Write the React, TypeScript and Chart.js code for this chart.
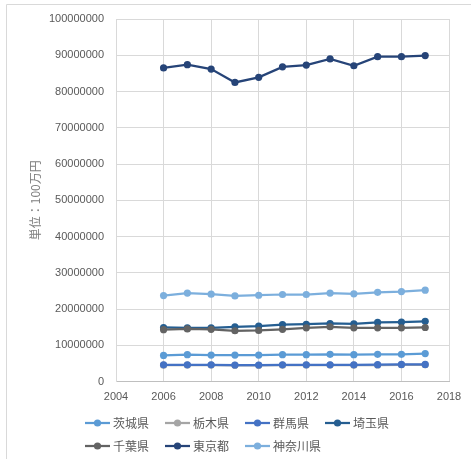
import React, { useEffect, useRef } from 'react';
import { Chart, registerables } from 'chart.js';

Chart.register(...registerables);

const years = [2006, 2007, 2008, 2009, 2010, 2011, 2012, 2013, 2014, 2015, 2016, 2017];
const seriesNames = ['茨城県', '栃木県', '群馬県', '埼玉県', '千葉県', '東京都', '神奈川県'];
const ibaraki = [7200000, 7400000, 7300000, 7300000, 7300000, 7400000, 7400000, 7500000, 7400000, 7500000, 7500000, 7700000];
const tochigi = [4500000, 4550000, 4550000, 4450000, 4450000, 4500000, 4550000, 4550000, 4500000, 4550000, 4600000, 4600000];
const gunma = [4600000, 4600000, 4600000, 4550000, 4550000, 4600000, 4600000, 4600000, 4600000, 4650000, 4700000, 4700000];
const saitama = [14900000, 14800000, 14800000, 15100000, 15300000, 15700000, 15800000, 16000000, 15900000, 16300000, 16400000, 16600000];
const chiba = [14300000, 14500000, 14400000, 14000000, 14100000, 14400000, 14800000, 15100000, 14800000, 14800000, 14800000, 14900000];
const tokyo = [86500000, 87400000, 86200000, 82500000, 83900000, 86800000, 87300000, 89000000, 87100000, 89600000, 89600000, 89900000];
const kanagawa = [23700000, 24400000, 24100000, 23600000, 23800000, 24000000, 24000000, 24400000, 24200000, 24600000, 24800000, 25200000];
const seriesValues = [ibaraki, tochigi, gunma, saitama, chiba, tokyo, kanagawa];
const colors = ['#5B9BD5', '#A5A5A5', '#4472C4', '#255E91', '#636363', '#264478', '#7CAFDD'];
const yAxisTitle = '単位：100万円';
const xMin = 2004;
const xMax = 2018;
const xStep = 2;
const yMin = 0;
const yMax = 100000000;
const yStep = 10000000;

const TEXT = '#595959';
const GRID = '#D9D9D9';

function makeLegendImage(color: string): HTMLCanvasElement {
  const c = document.createElement('canvas');
  c.width = 33;
  c.height = 10;
  const g = c.getContext('2d')!;
  g.strokeStyle = color;
  g.lineWidth = 2.25;
  g.beginPath();
  g.moveTo(8, 5);
  g.lineTo(33, 5);
  g.stroke();
  g.fillStyle = color;
  g.beginPath();
  g.arc(20.5, 5, 3.6, 0, Math.PI * 2);
  g.fill();
  return c;
}

export default function App() {
  const ref = useRef<HTMLCanvasElement | null>(null);

  useEffect(() => {
    if (!ref.current) return;
    const legendImgs = colors.map(makeLegendImage);

    const framePlugin = {
      id: 'frame',
      beforeDraw(chart: any) {
        const ctx = chart.ctx;
        ctx.save();
        ctx.strokeStyle = GRID;
        ctx.lineWidth = 1;
        ctx.beginPath();
        ctx.moveTo(6.5, 459);
        ctx.lineTo(6.5, 4.5);
        ctx.lineTo(471, 4.5);
        ctx.stroke();
        ctx.restore();
      },
      afterLayout(chart: any) {
        const lg = chart.legend;
        if (!lg) return;
        const w = lg.width;
        const h = lg.height;
        lg.left = 69;
        lg.right = 69 + w;
        lg.top = 406;
        lg.bottom = 406 + h;
      },
    };

    const chart = new Chart(ref.current, {
      type: 'line',
      data: {
        datasets: seriesNames.map((name, i) => ({
          label: name,
          data: years.map((yr, j) => ({ x: yr, y: seriesValues[i][j] })),
          borderColor: colors[i],
          backgroundColor: colors[i],
          pointBackgroundColor: colors[i],
          pointBorderColor: colors[i],
          pointRadius: 3.6,
          pointBorderWidth: 0,
          borderWidth: 2.25,
          tension: 0,
          fill: false,
          order: seriesNames.length - 1 - i,
        })),
      },
      options: {
        animation: false,
        responsive: false,
        maintainAspectRatio: false,
        layout: { padding: { left: 0, right: 22, top: 19, bottom: 0 } },
        plugins: {
          legend: {
            position: 'bottom',
            align: 'start',
            fullSize: false,
            labels: {
              usePointStyle: true,
              pointStyleWidth: 27,
              padding: 11,
              color: TEXT,
              font: { family: '"Noto Sans CJK JP", sans-serif', size: 12 },
              sort: (a: any, b: any) => a.datasetIndex - b.datasetIndex,
              generateLabels: (ch: any) => {
                const items = (Chart.defaults.plugins.legend.labels as any).generateLabels(ch);
                items.forEach((it: any) => {
                  it.pointStyle = legendImgs[it.datasetIndex];
                });
                return items;
              },
            },
          },
          tooltip: { enabled: false },
        },
        scales: {
          x: {
            type: 'linear',
            min: xMin,
            max: xMax,
            afterFit: (s: any) => {
              s.height = 21.5;
            },
            ticks: {
              stepSize: xStep,
              padding: 9,
              color: TEXT,
              font: { family: '"Liberation Sans", sans-serif', size: 11 },
              callback: (v: any) => String(v),
            },
            grid: { color: GRID, drawTicks: false, lineWidth: 1 },
            border: { color: '#BFBFBF', width: 1 },
          },
          y: {
            type: 'linear',
            min: yMin,
            max: yMax,
            afterFit: (s: any) => {
              s.width = 116;
            },
            ticks: {
              stepSize: yStep,
              padding: 12,
              color: TEXT,
              font: { family: '"Liberation Sans", sans-serif', size: 11 },
              callback: (v: any) => String(v),
            },
            grid: { color: GRID, drawTicks: false, lineWidth: 1 },
            border: { color: GRID, width: 1 },
            title: {
              display: true,
              text: yAxisTitle,
              color: '#7F7F7F',
              font: { family: '"Noto Sans CJK JP", sans-serif', size: 12 },
              padding: { top: 28, bottom: 0 },
            },
          },
        },
      },
      plugins: [framePlugin],
    } as any);

    return () => chart.destroy();
  }, []);

  return (
    <div style={{ position: 'fixed', left: 0, top: 0, width: 471, height: 459, background: '#fff' }}>
      <canvas ref={ref} width={471} height={459} style={{ display: 'block', width: 471, height: 459 }} />
    </div>
  );
}
